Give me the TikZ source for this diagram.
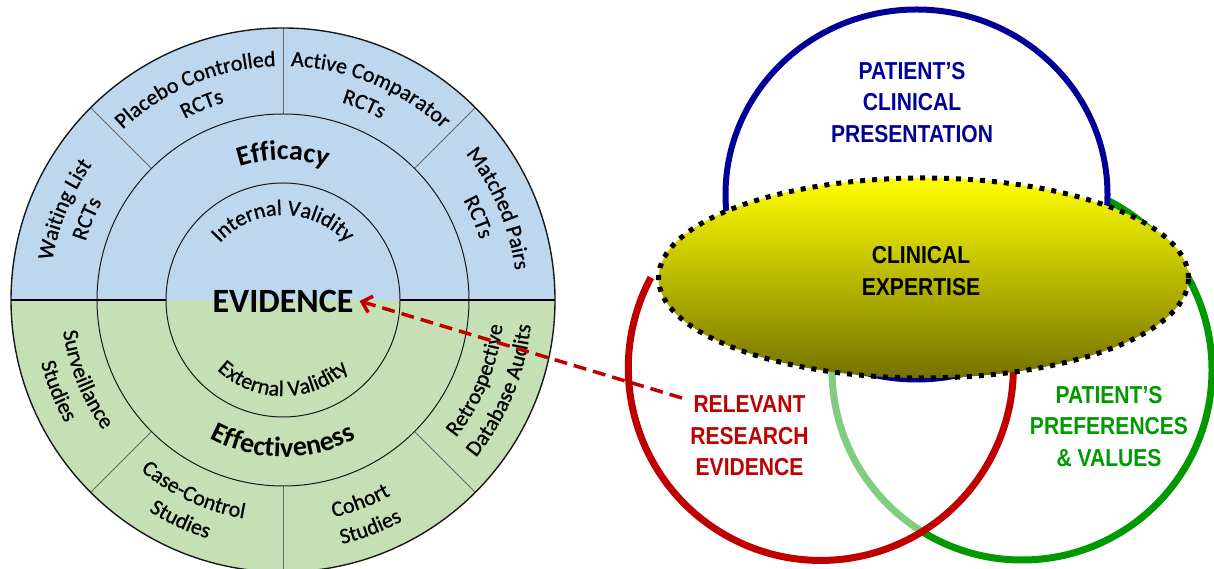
\documentclass[tikz,border=0pt]{standalone}
\usepackage{fontspec}
\usetikzlibrary{decorations.text,arrows.meta,shapes.geometric}

\newfontfamily\calib{Carlito}
\newfontfamily\calibdark[FakeBold=0.8]{Carlito}
\newfontfamily\narrowsans[FakeStretch=0.86]{Liberation Sans}

\definecolor{effblue}{RGB}{189,215,238}
\definecolor{effgreen}{RGB}{197,224,180}
\definecolor{ringline}{RGB}{25,25,25}
\definecolor{spokeline}{RGB}{105,105,105}
\definecolor{venblue}{RGB}{0,0,153}
\definecolor{venred}{RGB}{192,0,0}
\definecolor{vengreen}{RGB}{0,153,0}
\definecolor{expyellow}{RGB}{255,255,0}
\definecolor{expmid}{RGB}{214,210,0}
\definecolor{expolive}{RGB}{116,114,0}

\newcommand\ringfont{\calibdark\fontsize{22}{26}\selectfont}
\newcommand\zonefont{\calib\bfseries\fontsize{28}{32}\selectfont}
\newcommand\validfont{\calibdark\fontsize{22}{26}\selectfont}
\newcommand\evfont{\calib\bfseries\fontsize{34}{40}\selectfont}
\newcommand\venfont{\narrowsans\bfseries\fontsize{24.5}{31.5}\selectfont}

% text on the upper half of the wheel: clockwise arc, letters facing outward
% #1 centre angle, #2 baseline radius, #3 text, #4 font
\newcommand\uparc[4]{%
  \path[decorate,decoration={text along path,text align=center,text={|#4|#3}}]
    ({#1+80}:#2) arc[start angle={#1+80},end angle={#1-80},radius=#2];}
% text on the lower half: counter-clockwise arc, letters facing the centre
\newcommand\lowarc[4]{%
  \path[decorate,decoration={text along path,text align=center,text={|#4|#3}}]
    ({#1-80}:#2) arc[start angle={#1-80},end angle={#1+80},radius=#2];}

\begin{document}
\begin{tikzpicture}[x=1pt,y=1pt,
  spoke/.style={draw=spokeline,line width=0.8pt},
  ringstroke/.style={draw=ringline,line width=1pt},
  vencircle/.style={ellipse,inner sep=0pt,line width=7pt},
  ventext/.style={font=\venfont,align=center,inner sep=0pt},
  expshape/.style={ellipse,inner sep=0pt,minimum width=530pt,minimum height=200pt,
    top color=expyellow,middle color=expmid,bottom color=expolive,
    draw=black,line width=5pt,dash pattern=on 5pt off 7pt},
  evarrow/.style={draw=venred,line width=3.5pt,dash pattern=on 13pt off 7pt,
    -{Straight Barb[length=9pt,width=17pt]}}]

\useasboundingbox (0,0) rectangle (1214,569);
\clip (0,0) rectangle (1214,569);
\fill[white] (0,0) rectangle (1214,569);

% ---------- evidence wheel ----------
\begin{scope}[shift={(283,269)}]
  \coordinate (W) at (0,0);
  \fill[effblue] (0:272) arc[start angle=0,end angle=180,radius=272] -- cycle;
  \fill[effgreen] (180:272) arc[start angle=180,end angle=360,radius=272] -- cycle;
  \foreach \a in {45,90,135,225,270,315} \draw[spoke] (\a:186) -- (\a:272);
  \draw[ringstroke] (W) circle[radius=186] (W) circle[radius=117];
  \draw[ringstroke,line width=1.4pt] (W) circle[radius=272];
  \draw[black,line width=2.4pt] (-272,0) -- (-117,0) (117,0) -- (272,0);

  % outer ring, upper half
  \uparc{157.5}{234}{Waiting List}{\ringfont}
  \uparc{157.5}{206}{RCTs}{\ringfont}
  \uparc{112.5}{234}{Placebo Controlled}{\ringfont}
  \uparc{112.5}{206}{RCTs}{\ringfont}
  \uparc{67.5}{234}{Active Comparator}{\ringfont}
  \uparc{67.5}{206}{RCTs}{\ringfont}
  \uparc{23}{234}{Matched Pairs}{\ringfont}
  \uparc{23}{206}{RCTs}{\ringfont}
  % outer ring, lower half
  \lowarc{202}{222}{Surveillance}{\ringfont}
  \lowarc{202}{250}{Studies}{\ringfont}
  \lowarc{245}{222}{Case-Control}{\ringfont}
  \lowarc{245}{250}{Studies}{\ringfont}
  \lowarc{291}{223}{Cohort}{\ringfont}
  \lowarc{291}{251}{Studies}{\ringfont}
  \lowarc{337.5}{221}{Retrospective}{\ringfont}
  \lowarc{337.5}{249}{Database Audits}{\ringfont}
  % middle ring and core
  \uparc{90}{140}{Efficacy}{\zonefont}
  \lowarc{270}{157}{Effectiveness}{\zonefont}
  \uparc{90}{85}{Internal Validity}{\validfont}
  \lowarc{270}{96}{External Validity}{\validfont}

  \node[font=\evfont,inner ysep=0pt,inner xsep=6pt] (evidence) at (0,-1) {EVIDENCE};
\end{scope}

% ---------- three circles of evidence-based practice ----------
\node[vencircle,circle,minimum size=380pt,draw=vengreen] (prefs) at (1022,199) {};
% research circle: light veil over the green ring, stroke only where it shows
\node[circle,inner sep=0pt,minimum size=385pt,fill=white,fill opacity=0.5] (research) at (821,201) {};
\draw[venred,line width=7pt] (research.152) arc[start angle=152,end angle=420,radius=192.5];
\node[vencircle,minimum width=382pt,minimum height=370pt,draw=venblue,line width=6pt,fill=white] (presentation) at (916.5,374.5) {};
\node[expshape] (expertise) at (923.5,291) {};

\node[ventext,text=venblue] (ptxt) at (912,466.5) {PATIENT’S\\CLINICAL\\PRESENTATION};
\node[ventext,text=black] (etxt) at (921,297.75) {CLINICAL\\EXPERTISE};
\node[ventext,text=venred] (rtxt) at (749.5,133) {RELEVANT\\RESEARCH\\EVIDENCE};
\node[ventext,text=vengreen] (gtxt) at (1109,142.5) {PATIENT’S\\PREFERENCES\\\& VALUES};

% research evidence feeds the evidence wheel
\coordinate (rrtail) at (682,171);
\draw[evarrow] (rrtail) -- (evidence.east);
\end{tikzpicture}
\end{document}
